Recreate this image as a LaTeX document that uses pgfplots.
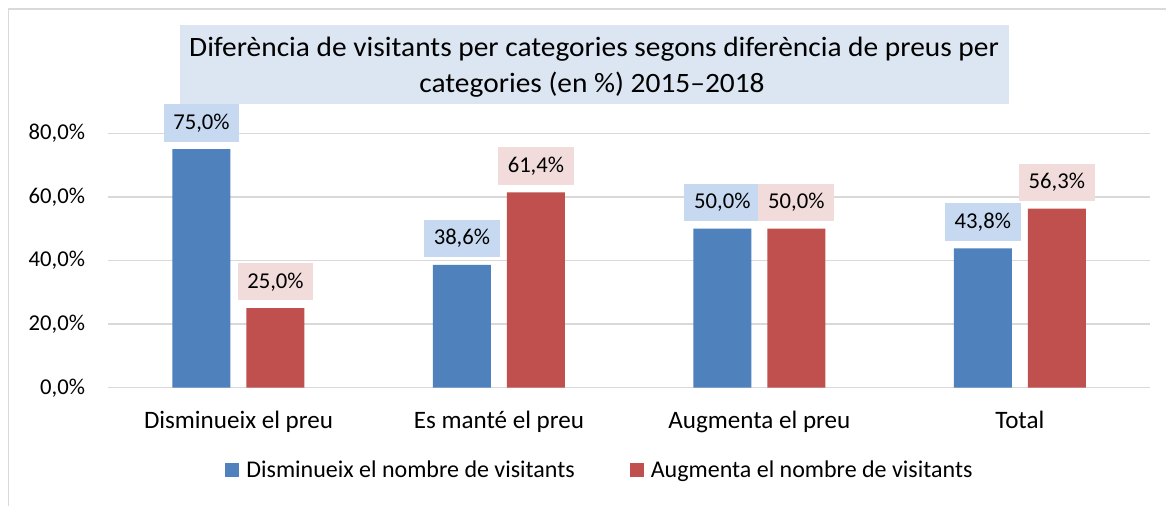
\documentclass[border=0pt]{standalone}
\usepackage{fontspec}
\setmainfont{Carlito}
\newfontfamily\titlefont[FakeStretch=1.05, Ligatures=TeX]{Carlito}
\usepackage{pgfplots}
\pgfplotsset{compat=1.18}
\definecolor{barblue}{HTML}{4F81BD}
\definecolor{barred}{HTML}{C0504D}
\definecolor{lblblue}{HTML}{C6D9F1}
\definecolor{lblred}{HTML}{F2DCDB}
\definecolor{titlebox}{HTML}{DCE6F2}
\definecolor{gridgray}{HTML}{D9D9D9}
\newcommand\lblfont{\fontsize{17}{20}\selectfont}
\newcommand\xlfont{\fontsize{18.8}{22}\selectfont}
\newcommand\lgfont{\fontsize{18}{21}\selectfont}
\begin{document}
\begin{tikzpicture}
\useasboundingbox (0pt,0pt) rectangle (874.5pt,379.5pt);
\fill[white] (0pt,0pt) rectangle (874.5pt,379.5pt);
\draw[gridgray, line width=1.1pt] (6.5pt,0pt) -- (6.5pt,372.75pt) -- (874.5pt,372.75pt);
\fill[titlebox] (135pt,301.3pt) rectangle (756.5pt,360.75pt);
\node[anchor=base, font=\titlefont\fontsize{21}{24}\selectfont, inner sep=0pt] at (445.5pt,337.1pt) {Diferència de visitants per categories segons diferència de preus per};
\node[anchor=base, font=\titlefont\fontsize{21}{24}\selectfont, inner sep=0pt] at (444pt,309.75pt) {categories (en \%) 2015–2018};
\coordinate (axSW) at (81.2pt,88.7pt);
\begin{axis}[
  at={(axSW)}, anchor=south west, scale only axis,
  width=781.3pt, height=190.8pt,
  xmin=-0.5, xmax=3.5, ymin=0, ymax=80,
  clip=false,
  ybar=12pt, bar width=43.5pt,
  xtick={0,1,2,3},
  xticklabels={Disminueix el preu, Es manté el preu, Augmenta el preu, Total},
  ytick={0,20,40,60,80},
  yticklabels={{0,0\%},{20,0\%},{40,0\%},{60,0\%},{80,0\%}},
  major tick length=0pt,
  axis line style={draw=none},
  ymajorgrids, grid style={gridgray, line width=1.1pt},
  tick label style={text=black},
  yticklabel style={font=\lblfont, anchor=east, inner sep=0pt, xshift=-17.25pt},
  xticklabel style={font=\xlfont, anchor=north, inner sep=0pt, yshift=-17pt},
  nodes near coords={\pgfmathprintnumber[fixed, fixed zerofill, precision=1, use comma, assume math mode=true]{\pgfplotspointmeta}\%},
  nodes near coords style={font=\lblfont, text=black, inner sep=0pt, minimum width=56.8pt, minimum height=28pt, anchor=south, yshift=5.6pt},
  legend columns=2,
  legend style={at={(axis description cs:0.471,-0.3235)}, anchor=center, draw=none, fill=none, font=\lgfont,
    nodes={inner sep=0pt},
    /tikz/every odd column/.append style={column sep=5.25pt},
    /tikz/every even column/.append style={column sep=41.25pt}},
  legend image code/.code={\fill[#1] (0pt,-5.25pt) rectangle (10.5pt,5.25pt);},
]
\addplot[fill=barblue, draw=none, nodes near coords style={fill=lblblue}] coordinates {(0,75.0) (1,38.6) (2,50.0) (3,43.8)};
\addplot[fill=barred, draw=none, nodes near coords style={fill=lblred}] coordinates {(0,25.0) (1,61.4) (2,50.0) (3,56.3)};
\legend{Disminueix el nombre de visitants, Augmenta el nombre de visitants}
\end{axis}
\end{tikzpicture}
\end{document}
